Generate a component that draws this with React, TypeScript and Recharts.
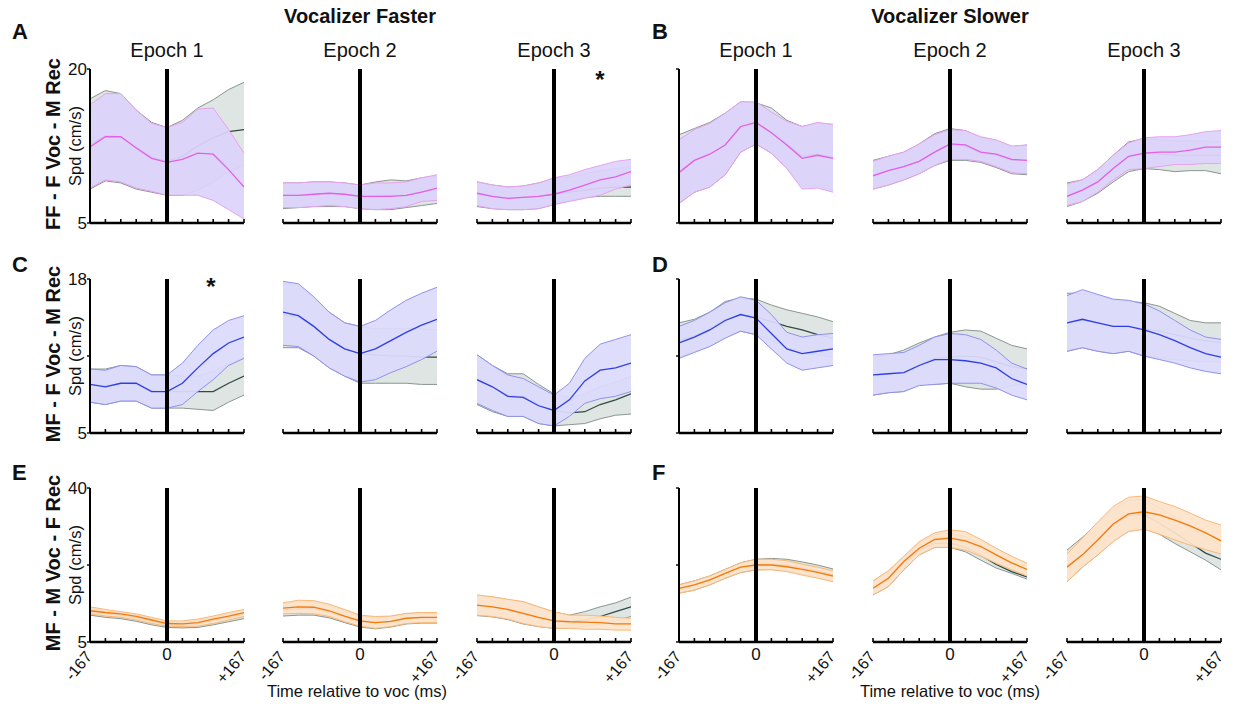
import React from 'react';
import { ComposedChart, Area, Line, XAxis, YAxis, ReferenceLine } from 'recharts';

const FONT = '"Liberation Sans", Arial, Helvetica, sans-serif';

// time bins, ms relative to vocalization onset
const TIMES = [-167, -133.6, -100.2, -66.8, -33.4, 0, 33.4, 66.8, 100.2, 133.6, 167];
const X_TICK_LABELS: Record<number, string> = { [-167]: '-167', 0: '0', 167: '+167' };

const GROUP_TITLES = ['Vocalizer Faster', 'Vocalizer Slower'];
const EPOCHS = ['Epoch 1', 'Epoch 2', 'Epoch 3'];
const ROW_LABELS = ['FF - F Voc - M Rec', 'MF - F Voc - M Rec', 'MF - M Voc - F Rec'];
const LETTERS = [['A', 'B'], ['C', 'D'], ['E', 'F']];
const Y_RANGES = [[5, 20], [5, 18], [5, 40]];
const Y_TICKS = [[5, 20], [5, 11.5, 18], [5, 22.5, 40]];

// row 1: FF - F Voc - M Rec (gray = shuffled/control, colored = observed)
const A1 = {
  grayHi: [17.1, 17.9, 17.6, 16.0, 14.8, 14.3, 15.0, 16.2, 17.0, 18.0, 18.7],
  grayMid: [12.6, 13.5, 13.4, 12.4, 11.4, 11.0, 11.5, 12.5, 13.3, 13.9, 14.1],
  grayLo: [8.3, 9.1, 8.9, 8.3, 8.0, 7.7, 7.7, 8.2, 9.0, 10.0, 10.6],
  hi: [16.5, 17.6, 17.6, 16.0, 14.7, 14.3, 14.8, 16.1, 16.2, 14.1, 11.8],
  mid: [12.4, 13.4, 13.4, 12.3, 11.3, 10.9, 11.2, 11.8, 11.7, 10.2, 8.5],
  lo: [8.4, 9.2, 9.0, 8.4, 8.1, 7.7, 7.7, 7.7, 7.2, 6.3, 5.4],
};
const A2 = {
  grayHi: [8.9, 8.9, 9.0, 9.0, 8.9, 8.7, 9.0, 9.2, 9.1, 9.4, 9.6],
  grayMid: [7.7, 7.7, 7.8, 7.9, 7.8, 7.6, 7.6, 7.7, 7.7, 8.0, 8.3],
  grayLo: [6.4, 6.5, 6.6, 6.6, 6.6, 6.4, 6.3, 6.3, 6.5, 6.7, 6.9],
  hi: [8.9, 8.9, 9.0, 9.0, 8.9, 8.7, 8.9, 8.9, 9.0, 9.4, 9.7],
  mid: [7.7, 7.7, 7.8, 7.9, 7.8, 7.6, 7.6, 7.6, 7.7, 8.0, 8.4],
  lo: [6.5, 6.5, 6.6, 6.7, 6.6, 6.4, 6.3, 6.4, 6.6, 7.1, 7.2],
};
const A3 = {
  grayHi: [9.0, 8.7, 8.5, 8.6, 8.9, 9.3, 9.5, 9.8, 10.1, 10.3, 10.5],
  grayMid: [7.9, 7.6, 7.4, 7.5, 7.6, 7.8, 8.0, 8.2, 8.4, 8.5, 8.5],
  grayLo: [6.6, 6.4, 6.3, 6.3, 6.4, 6.8, 7.2, 7.5, 7.6, 7.6, 7.6],
  hi: [9.0, 8.7, 8.5, 8.6, 8.9, 9.4, 9.7, 10.2, 10.6, 11.0, 11.2],
  mid: [7.9, 7.6, 7.4, 7.5, 7.6, 7.8, 8.2, 8.7, 9.2, 9.5, 10.0],
  lo: [6.7, 6.4, 6.3, 6.3, 6.4, 6.8, 7.1, 7.4, 7.7, 8.3, 8.7],
};
const B1 = {
  grayHi: [13.6, 14.2, 14.8, 15.7, 16.8, 16.7, 16.2, 15.0, 14.4, 14.7, 14.6],
  grayMid: [10.0, 11.1, 11.7, 12.6, 14.3, 14.7, 13.8, 12.7, 11.5, 11.7, 11.4],
  grayLo: [6.9, 8.0, 8.5, 9.7, 11.9, 12.7, 11.8, 10.4, 8.6, 8.6, 8.2],
  hi: [13.1, 14.1, 14.7, 15.7, 16.8, 16.8, 15.8, 14.9, 14.4, 14.8, 14.6],
  mid: [9.9, 11.1, 11.7, 12.6, 14.4, 14.8, 13.8, 12.6, 11.3, 11.6, 11.3],
  lo: [6.9, 8.0, 8.5, 9.7, 11.9, 12.7, 11.8, 10.3, 8.3, 8.4, 8.0],
};
const B2 = {
  grayHi: [11.1, 11.5, 11.9, 12.7, 13.7, 14.2, 14.0, 13.3, 13.0, 12.4, 12.6],
  grayMid: [9.6, 10.1, 10.5, 11.0, 11.9, 12.6, 12.5, 11.8, 11.6, 11.1, 11.1],
  grayLo: [8.3, 8.7, 9.2, 9.8, 10.6, 11.1, 11.1, 10.9, 10.4, 9.8, 9.7],
  hi: [11.0, 11.5, 11.9, 12.7, 13.6, 14.1, 14.0, 13.4, 13.1, 12.5, 12.6],
  mid: [9.6, 10.1, 10.5, 11.0, 11.9, 12.7, 12.6, 11.9, 11.7, 11.2, 11.1],
  lo: [8.3, 8.7, 9.2, 9.8, 10.6, 11.2, 11.2, 11.0, 10.5, 9.9, 9.8],
};
const B3 = {
  grayHi: [8.9, 9.2, 10.2, 11.6, 12.9, 13.2, 13.1, 13.0, 13.0, 13.0, 12.9],
  grayMid: [7.6, 8.2, 9.0, 10.3, 11.4, 11.8, 11.7, 11.6, 11.6, 11.6, 11.6],
  grayLo: [6.6, 7.1, 7.9, 9.0, 10.0, 10.3, 10.2, 10.0, 10.1, 10.1, 9.8],
  hi: [8.8, 9.2, 10.2, 11.6, 12.8, 13.3, 13.4, 13.4, 13.6, 13.9, 14.0],
  mid: [7.6, 8.2, 9.0, 10.3, 11.5, 11.8, 11.9, 11.9, 12.1, 12.4, 12.4],
  lo: [6.7, 7.1, 8.0, 9.2, 10.2, 10.3, 10.5, 10.7, 10.7, 10.8, 10.8],
};

// row 2: MF - F Voc - M Rec
const C1 = {
  grayHi: [10.4, 10.4, 10.7, 10.6, 9.9, 9.9, 9.8, 9.8, 10.2, 10.8, 11.4],
  grayMid: [9.1, 9.0, 9.2, 9.1, 8.6, 8.5, 8.5, 8.5, 8.5, 9.2, 9.8],
  grayLo: [7.6, 7.4, 7.7, 7.7, 7.1, 7.1, 7.1, 7.0, 6.9, 7.6, 8.2],
  hi: [10.4, 10.3, 10.7, 10.6, 9.9, 9.9, 10.9, 12.4, 13.7, 14.5, 14.9],
  mid: [9.1, 8.9, 9.2, 9.2, 8.5, 8.5, 9.2, 10.5, 11.7, 12.6, 13.1],
  lo: [7.6, 7.4, 7.7, 7.7, 7.1, 7.1, 7.4, 8.5, 9.5, 10.7, 11.3],
};
const C2 = {
  grayHi: [17.6, 17.4, 16.4, 15.2, 14.3, 14.0, 13.8, 13.8, 13.8, 13.8, 13.7],
  grayMid: [15.0, 14.8, 14.0, 12.9, 12.1, 11.7, 11.6, 11.5, 11.5, 11.4, 11.4],
  grayLo: [12.2, 12.2, 11.5, 10.5, 9.8, 9.2, 9.2, 9.2, 9.2, 9.1, 9.1],
  hi: [17.8, 17.6, 16.5, 15.2, 14.3, 14.0, 14.5, 15.4, 16.2, 16.8, 17.3],
  mid: [15.2, 14.9, 14.0, 12.9, 12.1, 11.7, 12.1, 12.8, 13.5, 14.1, 14.6],
  lo: [12.4, 12.3, 11.5, 10.5, 9.8, 9.3, 9.5, 10.1, 10.6, 11.2, 11.9],
};
const C3 = {
  grayHi: [11.6, 10.7, 10.0, 10.0, 9.1, 8.3, 8.0, 8.3, 8.9, 9.3, 9.8],
  grayMid: [9.5, 8.9, 8.2, 8.1, 7.4, 6.9, 6.7, 6.8, 7.4, 7.8, 8.3],
  grayLo: [7.4, 6.8, 6.4, 6.4, 5.8, 5.6, 5.7, 5.8, 6.2, 6.5, 6.6],
  hi: [11.6, 10.7, 9.9, 9.6, 8.9, 8.2, 9.2, 11.3, 12.5, 12.9, 13.3],
  mid: [9.5, 8.9, 8.1, 8.0, 7.3, 6.9, 7.8, 9.4, 10.3, 10.5, 10.9],
  lo: [7.5, 6.9, 6.4, 6.4, 5.8, 5.6, 6.4, 7.5, 7.9, 8.1, 8.5],
};
const D1 = {
  grayHi: [14.3, 14.6, 15.2, 16.1, 16.4, 16.3, 15.8, 15.4, 15.1, 14.8, 14.4],
  grayMid: [12.8, 13.2, 13.8, 14.6, 15.0, 14.8, 14.4, 14.0, 13.7, 13.3, 13.0],
  grayLo: [11.4, 11.9, 12.4, 13.1, 13.6, 13.3, 12.8, 12.2, 11.9, 11.6, 11.4],
  hi: [14.0, 14.5, 15.2, 16.0, 16.5, 16.2, 15.0, 13.5, 13.1, 13.3, 13.4],
  mid: [12.6, 13.1, 13.7, 14.5, 15.0, 14.7, 13.4, 12.1, 11.7, 11.9, 12.1],
  lo: [11.3, 11.8, 12.3, 13.0, 13.6, 13.3, 12.1, 10.9, 10.3, 10.5, 10.7],
};
const D2 = {
  grayHi: [11.4, 11.6, 12.0, 12.6, 13.1, 13.5, 13.7, 13.6, 13.0, 12.4, 12.1],
  grayMid: [9.8, 10.0, 10.1, 10.8, 11.3, 11.4, 11.5, 11.4, 11.0, 10.6, 10.4],
  grayLo: [8.2, 8.4, 8.5, 9.1, 9.1, 9.2, 8.9, 8.7, 8.7, 9.0, 9.2],
  hi: [11.6, 11.7, 11.8, 12.4, 13.1, 13.4, 13.3, 12.9, 12.0, 10.9, 10.4],
  mid: [9.9, 10.0, 10.1, 10.7, 11.2, 11.2, 11.1, 10.9, 10.5, 9.6, 9.1],
  lo: [8.2, 8.4, 8.5, 9.0, 9.1, 9.2, 9.2, 9.2, 8.8, 8.2, 7.8],
};
const D3 = {
  grayHi: [16.8, 16.8, 16.6, 16.2, 16.1, 16.0, 15.7, 15.1, 14.5, 14.3, 14.3],
  grayMid: [14.3, 14.5, 14.3, 14.0, 14.0, 13.8, 13.6, 13.3, 13.0, 12.8, 12.6],
  grayLo: [11.9, 12.2, 11.9, 11.7, 11.9, 11.5, 11.3, 11.2, 11.1, 11.0, 11.0],
  hi: [16.6, 17.1, 16.7, 16.3, 16.2, 15.9, 15.3, 14.5, 13.7, 13.1, 12.9],
  mid: [14.3, 14.6, 14.3, 14.0, 14.0, 13.7, 13.3, 12.8, 12.2, 11.7, 11.4],
  lo: [11.9, 12.2, 11.9, 11.7, 11.9, 11.5, 11.2, 10.9, 10.5, 10.2, 10.0],
};

// row 3: MF - M Voc - F Rec
const E1 = {
  grayHi: [12.7, 12.1, 11.6, 11.1, 10.3, 9.5, 9.5, 9.9, 10.6, 11.4, 12.1],
  grayMid: [11.8, 11.4, 11.1, 10.5, 9.7, 8.9, 8.8, 9.1, 9.9, 10.6, 11.4],
  grayLo: [11.1, 10.6, 10.3, 9.7, 8.9, 8.3, 8.2, 8.3, 8.9, 9.6, 10.3],
  hi: [13.0, 12.4, 11.9, 11.4, 10.6, 9.8, 9.8, 10.2, 10.9, 11.7, 12.4],
  mid: [12.1, 11.7, 11.4, 10.8, 10.0, 9.2, 9.1, 9.4, 10.2, 10.9, 11.7],
  lo: [11.4, 10.9, 10.6, 10.0, 9.2, 8.6, 8.5, 8.6, 9.2, 10.0, 10.8],
};
const E2 = {
  grayHi: [13.6, 14.2, 14.1, 13.3, 12.1, 10.9, 10.6, 10.8, 11.4, 11.6, 11.6],
  grayMid: [12.3, 12.6, 12.6, 11.8, 10.7, 9.6, 9.3, 9.6, 10.3, 10.5, 10.5],
  grayLo: [10.9, 11.1, 11.1, 10.5, 9.4, 8.4, 8.0, 8.4, 9.1, 9.3, 9.3],
  hi: [13.9, 14.5, 14.4, 13.6, 12.4, 11.1, 10.8, 10.9, 11.5, 11.7, 11.7],
  mid: [12.7, 13.0, 12.9, 12.1, 10.9, 9.8, 9.4, 9.7, 10.4, 10.6, 10.6],
  lo: [11.4, 11.5, 11.4, 10.8, 9.6, 8.6, 8.1, 8.5, 9.2, 9.4, 9.4],
};
const E3 = {
  grayHi: [15.5, 15.2, 14.6, 14.1, 12.9, 11.8, 11.1, 11.9, 13.0, 13.9, 15.2],
  grayMid: [13.2, 12.9, 12.3, 11.4, 10.5, 9.8, 9.7, 10.0, 10.8, 11.9, 13.0],
  grayLo: [11.0, 10.7, 10.1, 9.1, 8.5, 8.1, 8.2, 8.6, 9.0, 9.8, 10.8],
  hi: [15.7, 15.3, 14.7, 14.2, 13.0, 11.9, 11.1, 11.1, 10.9, 10.6, 10.4],
  mid: [13.4, 13.0, 12.4, 11.5, 10.6, 9.8, 9.6, 9.5, 9.4, 9.1, 9.1],
  lo: [11.1, 10.8, 10.2, 9.2, 8.5, 8.1, 8.1, 7.9, 7.9, 7.7, 7.7],
};
const F1 = {
  grayHi: [18.0, 18.9, 20.0, 21.5, 23.0, 23.8, 24.0, 23.8, 23.2, 22.5, 21.6],
  grayMid: [17.2, 18.0, 19.1, 20.6, 22.0, 22.6, 22.7, 22.4, 21.8, 21.1, 20.3],
  grayLo: [16.1, 16.8, 18.0, 19.5, 20.8, 21.4, 21.5, 21.2, 20.5, 19.8, 19.0],
  hi: [18.0, 18.9, 20.0, 21.5, 23.0, 23.8, 23.8, 23.5, 22.7, 22.0, 21.2],
  mid: [17.2, 18.0, 19.1, 20.6, 22.0, 22.5, 22.5, 22.1, 21.5, 20.8, 20.0],
  lo: [16.1, 16.8, 18.0, 19.5, 20.8, 21.4, 21.4, 21.0, 20.2, 19.5, 18.7],
};
const F2 = {
  grayHi: [18.8, 21.0, 24.3, 27.5, 29.4, 29.8, 29.0, 27.2, 25.0, 23.0, 21.5],
  grayMid: [17.2, 19.4, 23.0, 25.8, 27.4, 27.5, 26.5, 24.7, 22.6, 21.0, 19.8],
  grayLo: [15.7, 17.6, 21.4, 24.8, 26.5, 26.5, 25.5, 23.6, 21.8, 20.6, 19.3],
  hi: [18.9, 21.2, 24.5, 27.8, 29.8, 30.5, 30.1, 28.3, 26.3, 24.5, 22.9],
  mid: [17.2, 19.5, 23.3, 26.3, 28.3, 28.6, 28.0, 26.7, 24.8, 23.0, 21.5],
  lo: [15.7, 17.6, 21.4, 24.8, 26.5, 26.5, 25.9, 24.5, 22.9, 21.4, 20.0],
};
const F3 = {
  grayHi: [25.9, 28.8, 32.0, 35.2, 37.2, 37.5, 35.5, 33.5, 31.0, 29.0, 27.0],
  grayMid: [22.2, 24.9, 28.1, 31.5, 33.7, 34.0, 32.0, 29.8, 27.5, 25.2, 23.8],
  grayLo: [18.7, 22.0, 24.8, 28.0, 30.2, 30.8, 29.5, 27.4, 25.5, 23.6, 21.4],
  hi: [25.0, 28.6, 32.3, 35.8, 37.9, 38.2, 36.9, 35.8, 34.3, 32.7, 31.6],
  mid: [22.0, 24.8, 28.2, 31.8, 34.1, 34.6, 33.9, 32.7, 31.4, 29.8, 28.0],
  lo: [18.7, 22.0, 24.8, 27.8, 30.1, 30.6, 29.5, 28.2, 27.0, 26.0, 25.0],
};

const PANELS = [
  [A1, A2, A3, B1, B2, B3],
  [C1, C2, C3, D1, D2, D3],
  [E1, E2, E3, F1, F2, F3],
];

const ROW_COLORS = [
  { fill: '#ddd4fb', edge: '#e6a2f0', line: '#e35fe6' },
  { fill: '#dcdcfc', edge: '#9090f0', line: '#2e3ee6' },
  { fill: '#fde3ca', edge: '#f9b877', line: '#f47a0a' },
];
const GRAY = { fill: '#dfe5e2', edge: '#8a9690', line: '#2f4a44' };

// plot-area layout
const COL_X = [90, 283, 477, 679, 873, 1067];
const ROW_Y = [69, 279, 488];
const PW = 154;
const PH = 154;
const AX_H = 48; // room for x tick labels
const M = { top: 14, right: 8, bottom: 4, left: 4 };

function XTick(props: any) {
  const { x, y, payload, showLabels } = props;
  const v = payload.value;
  const lbl = X_TICK_LABELS[v];
  return (
    <g>
      <line x1={x} x2={x} y1={y} y2={y - 4} stroke="#000" strokeWidth={1.6} />
      {showLabels && lbl !== undefined && (v === 0 ? (
        <text x={x} y={y + 18} textAnchor="middle" fontSize={17} fontFamily={FONT} fill="#111">{lbl}</text>
      ) : (
        <text transform={`translate(${x + 3},${y + 15}) rotate(-50)`} textAnchor="end" fontSize={16} fontFamily={FONT} fill="#111">{lbl}</text>
      ))}
    </g>
  );
}

function YTick(props: any) {
  const { x, y, payload, showLabels, lo, hi } = props;
  const v = payload.value;
  return (
    <g>
      <line x1={x} x2={x - 3} y1={y} y2={y} stroke="#000" strokeWidth={1.4} />
      {showLabels && (v === lo || v === hi) && (
        <text x={x - 3} y={y} dy={6} textAnchor="end" fontSize={17} fontFamily={FONT} fill="#111">{v}</text>
      )}
    </g>
  );
}

function Panel({ row, col }: { row: number; col: number }) {
  const d = PANELS[row][col];
  const [lo, hi] = Y_RANGES[row];
  const c = ROW_COLORS[row];
  const data = TIMES.map((t, i) => ({
    t,
    gray: [d.grayLo[i], d.grayHi[i]],
    grayMid: d.grayMid[i],
    band: [d.lo[i], d.hi[i]],
    mid: d.mid[i],
  }));
  const showY = col === 0 || col === 3;
  const axW = col === 0 ? 40 : 28;
  return (
    <div style={{ position: 'absolute', left: COL_X[col] - M.left - axW, top: ROW_Y[row] - M.top }}>
      <ComposedChart
        width={PW + M.left + M.right + axW}
        height={PH + M.top + M.bottom + AX_H}
        data={data}
        margin={M}
      >
        <XAxis
          dataKey="t"
          type="number"
          domain={[-167, 167]}
          ticks={TIMES}
          interval={0}
          height={AX_H}
          tickSize={0}
          tickMargin={0}
          tickLine={false}
          axisLine={{ stroke: '#000', strokeWidth: 2.5 }}
          tick={(p: any) => <XTick {...p} showLabels={row === 2} />}
          allowDataOverflow
        />
        <YAxis
          type="number"
          domain={[lo, hi]}
          ticks={Y_TICKS[row]}
          interval={0}
          width={axW}
          tickSize={0}
          tickMargin={0}
          tickLine={false}
          axisLine={showY ? { stroke: '#000', strokeWidth: 2 } : false}
          tick={showY ? (p: any) => <YTick {...p} showLabels={col === 0} lo={lo} hi={hi} /> : false}
          allowDataOverflow
        />
        <Area type="linear" dataKey="gray" stroke={GRAY.edge} strokeWidth={1} fill={GRAY.fill} fillOpacity={1} isAnimationActive={false} dot={false} activeDot={false} />
        <Area type="linear" dataKey="grayMid" stroke={GRAY.line} strokeWidth={1.2} fill="none" baseValue={lo} isAnimationActive={false} dot={false} activeDot={false} />
        <Area type="linear" dataKey="band" stroke={c.edge} strokeWidth={1} fill={c.fill} fillOpacity={0.93} isAnimationActive={false} dot={false} activeDot={false} />
        <Line type="linear" dataKey="mid" stroke={c.line} strokeWidth={1.3} dot={false} activeDot={false} isAnimationActive={false} />
        <ReferenceLine x={0} stroke="#000" strokeWidth={4} />
      </ComposedChart>
    </div>
  );
}

const txt = (s: React.CSSProperties): React.CSSProperties => ({
  position: 'absolute',
  fontFamily: FONT,
  color: '#111',
  whiteSpace: 'nowrap',
  lineHeight: 1,
  ...s,
});

export default function App() {
  const rows = [0, 1, 2];
  const cols = [0, 1, 2, 3, 4, 5];
  const rowCenters = ROW_Y.map((y) => y + PH / 2);
  return (
    <div style={{ position: 'absolute', left: 0, top: 0, width: 1235, height: 706, background: '#fff', overflow: 'hidden' }}>
      {GROUP_TITLES.map((g, i) => (
        <div key={g} style={txt({ left: i === 0 ? 360 : 950, top: 6, transform: 'translateX(-50%)', fontSize: 20, fontWeight: 700 })}>{g}</div>
      ))}
      {cols.map((c) => (
        <div key={'ep' + c} style={txt({ left: COL_X[c] + PW / 2, top: 40, transform: 'translateX(-50%)', fontSize: 20 })}>{EPOCHS[c % 3]}</div>
      ))}
      {LETTERS.map((pair, r) =>
        pair.map((L, k) => (
          <div key={L} style={txt({ left: k === 0 ? 12 : 652, top: [21, 254, 462][r], fontSize: 22, fontWeight: 700 })}>{L}</div>
        ))
      )}
      {ROW_LABELS.map((lbl, r) => (
        <div key={lbl} style={txt({ left: 53, top: rowCenters[r] - 2, transform: 'translate(-50%, -50%) rotate(-90deg)', fontSize: 20, fontWeight: 700 })}>{lbl}</div>
      ))}
      {rows.map((r) => (
        <div key={'spd' + r} style={txt({ left: 75, top: rowCenters[r], transform: 'translate(-50%, -50%) rotate(-90deg)', fontSize: 16.5 })}>Spd (cm/s)</div>
      ))}
      <div style={txt({ left: 600, top: 68, transform: 'translateX(-50%)', fontSize: 24, fontWeight: 700 })}>*</div>
      <div style={txt({ left: 211, top: 275, transform: 'translateX(-50%)', fontSize: 24, fontWeight: 700 })}>*</div>
      {[357, 950].map((x) => (
        <div key={'xt' + x} style={txt({ left: x, top: 683, transform: 'translateX(-50%)', fontSize: 16.5 })}>Time relative to voc (ms)</div>
      ))}
      {rows.map((r) => cols.map((c) => <Panel key={r + '-' + c} row={r} col={c} />))}
    </div>
  );
}
